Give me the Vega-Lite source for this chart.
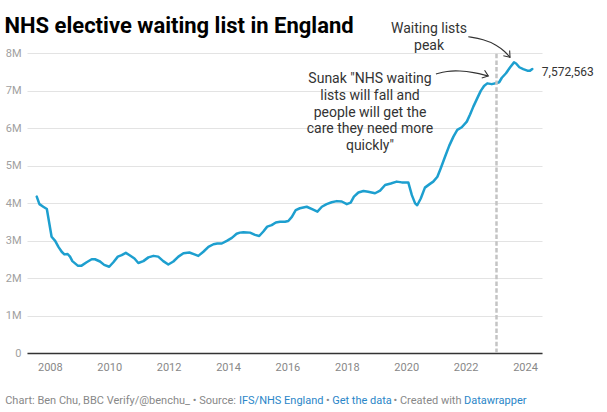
{
  "$schema": "https://vega.github.io/schema/vega-lite/v6.json",
  "width": 515,
  "height": 300,
  "autosize": "none",
  "padding": {"left": 27, "top": 53, "right": 65, "bottom": 59},
  "background": "#ffffff",
  "config": {
    "font": "Roboto",
    "view": {"stroke": null},
    "axis": {"labelFont": "Roboto", "titleFont": "Roboto"}
  },
  "title": {
    "text": "NHS elective waiting list in England",
    "anchor": "start",
    "frame": "group",
    "dx": -22.5,
    "offset": 0,
    "dy": 33,
    "baseline": "alphabetic",
    "fontSize": 22,
    "fontWeight": "bold",
    "color": "#000000",
    "font": "Roboto"
  },
  "resolve": {"axis": {"x": "independent", "y": "independent"}},
  "datasets": {
    "wl": [
      {"year": 2007.56, "waiting": 4170000},
      {"year": 2007.65, "waiting": 3970000},
      {"year": 2007.78, "waiting": 3900000},
      {"year": 2007.90, "waiting": 3840000},
      {"year": 2008.06, "waiting": 3100000},
      {"year": 2008.18, "waiting": 2990000},
      {"year": 2008.29, "waiting": 2830000},
      {"year": 2008.40, "waiting": 2700000},
      {"year": 2008.49, "waiting": 2630000},
      {"year": 2008.60, "waiting": 2640000},
      {"year": 2008.68, "waiting": 2570000},
      {"year": 2008.76, "waiting": 2450000},
      {"year": 2008.85, "waiting": 2390000},
      {"year": 2008.94, "waiting": 2330000},
      {"year": 2009.07, "waiting": 2330000},
      {"year": 2009.24, "waiting": 2420000},
      {"year": 2009.41, "waiting": 2500000},
      {"year": 2009.52, "waiting": 2500000},
      {"year": 2009.69, "waiting": 2440000},
      {"year": 2009.83, "waiting": 2350000},
      {"year": 2010.00, "waiting": 2300000},
      {"year": 2010.14, "waiting": 2420000},
      {"year": 2010.29, "waiting": 2570000},
      {"year": 2010.42, "waiting": 2610000},
      {"year": 2010.56, "waiting": 2670000},
      {"year": 2010.70, "waiting": 2600000},
      {"year": 2010.85, "waiting": 2520000},
      {"year": 2010.98, "waiting": 2400000},
      {"year": 2011.15, "waiting": 2450000},
      {"year": 2011.32, "waiting": 2550000},
      {"year": 2011.49, "waiting": 2590000},
      {"year": 2011.65, "waiting": 2570000},
      {"year": 2011.82, "waiting": 2450000},
      {"year": 2011.99, "waiting": 2360000},
      {"year": 2012.16, "waiting": 2440000},
      {"year": 2012.33, "waiting": 2570000},
      {"year": 2012.50, "waiting": 2660000},
      {"year": 2012.70, "waiting": 2680000},
      {"year": 2012.87, "waiting": 2630000},
      {"year": 2013.00, "waiting": 2590000},
      {"year": 2013.17, "waiting": 2700000},
      {"year": 2013.34, "waiting": 2830000},
      {"year": 2013.51, "waiting": 2900000},
      {"year": 2013.64, "waiting": 2920000},
      {"year": 2013.79, "waiting": 2920000},
      {"year": 2013.96, "waiting": 2990000},
      {"year": 2014.13, "waiting": 3070000},
      {"year": 2014.29, "waiting": 3180000},
      {"year": 2014.40, "waiting": 3210000},
      {"year": 2014.52, "waiting": 3220000},
      {"year": 2014.74, "waiting": 3210000},
      {"year": 2014.91, "waiting": 3150000},
      {"year": 2015.05, "waiting": 3120000},
      {"year": 2015.19, "waiting": 3240000},
      {"year": 2015.32, "waiting": 3370000},
      {"year": 2015.47, "waiting": 3410000},
      {"year": 2015.61, "waiting": 3480000},
      {"year": 2015.75, "waiting": 3500000},
      {"year": 2015.92, "waiting": 3500000},
      {"year": 2016.03, "waiting": 3520000},
      {"year": 2016.15, "waiting": 3630000},
      {"year": 2016.28, "waiting": 3810000},
      {"year": 2016.42, "waiting": 3860000},
      {"year": 2016.65, "waiting": 3900000},
      {"year": 2016.85, "waiting": 3830000},
      {"year": 2017.01, "waiting": 3770000},
      {"year": 2017.16, "waiting": 3900000},
      {"year": 2017.32, "waiting": 3970000},
      {"year": 2017.49, "waiting": 4020000},
      {"year": 2017.66, "waiting": 4050000},
      {"year": 2017.83, "waiting": 4040000},
      {"year": 2018.00, "waiting": 3970000},
      {"year": 2018.13, "waiting": 4010000},
      {"year": 2018.24, "waiting": 4170000},
      {"year": 2018.39, "waiting": 4280000},
      {"year": 2018.56, "waiting": 4320000},
      {"year": 2018.72, "waiting": 4300000},
      {"year": 2018.95, "waiting": 4260000},
      {"year": 2019.12, "waiting": 4330000},
      {"year": 2019.29, "waiting": 4480000},
      {"year": 2019.48, "waiting": 4520000},
      {"year": 2019.68, "waiting": 4570000},
      {"year": 2019.85, "waiting": 4550000},
      {"year": 2020.07, "waiting": 4550000},
      {"year": 2020.19, "waiting": 4210000},
      {"year": 2020.30, "waiting": 3990000},
      {"year": 2020.37, "waiting": 3940000},
      {"year": 2020.49, "waiting": 4120000},
      {"year": 2020.63, "waiting": 4410000},
      {"year": 2020.80, "waiting": 4510000},
      {"year": 2020.91, "waiting": 4570000},
      {"year": 2021.05, "waiting": 4700000},
      {"year": 2021.16, "waiting": 4920000},
      {"year": 2021.31, "waiting": 5240000},
      {"year": 2021.45, "waiting": 5530000},
      {"year": 2021.59, "waiting": 5770000},
      {"year": 2021.72, "waiting": 5950000},
      {"year": 2021.87, "waiting": 6020000},
      {"year": 2022.04, "waiting": 6170000},
      {"year": 2022.15, "waiting": 6360000},
      {"year": 2022.26, "waiting": 6570000},
      {"year": 2022.39, "waiting": 6790000},
      {"year": 2022.51, "waiting": 6990000},
      {"year": 2022.62, "waiting": 7120000},
      {"year": 2022.73, "waiting": 7190000},
      {"year": 2022.88, "waiting": 7170000},
      {"year": 2023.05, "waiting": 7200000},
      {"year": 2023.13, "waiting": 7220000},
      {"year": 2023.22, "waiting": 7340000},
      {"year": 2023.36, "waiting": 7460000},
      {"year": 2023.50, "waiting": 7620000},
      {"year": 2023.63, "waiting": 7750000},
      {"year": 2023.70, "waiting": 7720000},
      {"year": 2023.81, "waiting": 7620000},
      {"year": 2023.94, "waiting": 7570000},
      {"year": 2024.08, "waiting": 7530000},
      {"year": 2024.17, "waiting": 7530000},
      {"year": 2024.245, "waiting": 7572563}
    ],
    "arrows": [
      {"arrow": "peak", "year": 2022.09, "value": 8435000},
      {"arrow": "peak", "year": 2022.60, "value": 8365000},
      {"arrow": "peak", "year": 2023.05, "value": 8213000},
      {"arrow": "peak", "year": 2023.33, "value": 8035000},
      {"arrow": "peak", "year": 2023.495, "value": 7885000},
      {"arrow": "pledge", "year": 2021.00, "value": 7440000},
      {"arrow": "pledge", "year": 2021.36, "value": 7520000},
      {"arrow": "pledge", "year": 2021.81, "value": 7528000},
      {"arrow": "pledge", "year": 2022.26, "value": 7485000},
      {"arrow": "pledge", "year": 2022.764, "value": 7387000}
    ],
    "heads": [
      {"arrow": "peak", "year": 2023.495, "value": 7885000, "angle": 50},
      {"arrow": "pledge", "year": 2022.764, "value": 7387000, "angle": 20}
    ]
  },
  "layer": [
    {
      "data": {"name": "wl"},
      "mark": {"type": "line", "color": "#1d9fcf", "strokeWidth": 2.5, "strokeJoin": "round", "strokeCap": "round"},
      "encoding": {
        "x": {
          "field": "year",
          "type": "quantitative",
          "scale": {"domain": [2007.232, 2024.572], "nice": false, "zero": false},
          "axis": {
            "orient": "bottom",
            "values": [2008, 2010, 2012, 2014, 2016, 2018, 2020, 2022, 2024],
            "format": "d",
            "grid": false,
            "ticks": false,
            "domainColor": "#333333",
            "domainWidth": 1.5,
            "labelColor": "#888888",
            "labelFontSize": 11,
            "labelPadding": 8,
            "title": "Chart: Ben Chu, BBC Verify/@benchu_ • Source:",
            "titleAnchor": "start",
            "titleAlign": "left",
            "titleX": -22.3,
            "titleY": 47,
            "titleBaseline": "middle",
            "titleFontSize": 11,
            "titleFontWeight": "normal",
            "titleColor": "#888888"
          }
        },
        "y": {
          "field": "waiting",
          "type": "quantitative",
          "scale": {"domain": [0, 8000000], "nice": false},
          "axis": {
            "orient": "left",
            "values": [0, 1000000, 2000000, 3000000, 4000000, 5000000, 6000000, 7000000, 8000000],
            "labelExpr": "datum.value == 0 ? '0' : (datum.value / 1000000) + 'M'",
            "domain": false,
            "ticks": false,
            "grid": true,
            "gridColor": "#e3e3e3",
            "gridWidth": 1,
            "labelColor": "#a0a0a0",
            "labelFontSize": 11,
            "labelPadding": 6,
            "labelOverlap": false,
            "title": null
          }
        }
      }
    },
    {
      "data": {"values": [{}]},
      "mark": {"type": "rule", "color": "#c4c4c4", "strokeWidth": 2.5, "strokeDash": [4.5, 2.2]},
      "encoding": {
        "x": {
          "datum": 2023.04, "type": "quantitative",
          "axis": {"orient": "bottom", "domain": false, "ticks": false, "labels": false, "grid": false,
            "title": "IFS/NHS England", "titleAnchor": "start", "titleAlign": "left", "titleX": 211.5, "titleY": 47,
            "titleBaseline": "middle", "titleFontSize": 11, "titleFontWeight": "normal", "titleColor": "#2a86c8"}
        },
        "y": {"datum": 0, "type": "quantitative",
          "axis": {"orient": "left", "domain": false, "ticks": false, "labels": false, "grid": false, "title": null}},
        "y2": {"datum": 8000000}
      }
    },
    {
      "data": {"values": [{}]},
      "mark": {"type": "text", "text": "7,572,563", "align": "left", "baseline": "middle", "dx": 9.5, "dy": 2.5, "fontSize": 12, "color": "#333333", "font": "Roboto"},
      "encoding": {
        "x": {
          "datum": 2024.245, "type": "quantitative",
          "axis": {"orient": "bottom", "domain": false, "ticks": false, "labels": false, "grid": false,
            "title": "•", "titleAnchor": "start", "titleAlign": "left", "titleX": 298.5, "titleY": 47,
            "titleBaseline": "middle", "titleFontSize": 11, "titleFontWeight": "normal", "titleColor": "#888888"}
        },
        "y": {"datum": 7572563, "type": "quantitative",
          "axis": {"orient": "left", "domain": false, "ticks": false, "labels": false, "grid": false, "title": null}}
      }
    },
    {
      "data": {"values": [{}]},
      "mark": {"type": "text", "text": ["Waiting lists", "peak"], "align": "center", "baseline": "middle", "lineHeight": 17, "fontSize": 14, "color": "#333333", "font": "Roboto"},
      "encoding": {
        "x": {
          "datum": 2020.768, "type": "quantitative",
          "axis": {"orient": "bottom", "domain": false, "ticks": false, "labels": false, "grid": false,
            "title": "Get the data", "titleAnchor": "start", "titleAlign": "left", "titleX": 304.7, "titleY": 47,
            "titleBaseline": "middle", "titleFontSize": 11, "titleFontWeight": "normal", "titleColor": "#2a86c8"}
        },
        "y": {"datum": 8640000, "type": "quantitative",
          "axis": {"orient": "left", "domain": false, "ticks": false, "labels": false, "grid": false, "title": null}}
      }
    },
    {
      "data": {"values": [{}]},
      "mark": {"type": "text", "text": ["Sunak \"NHS waiting", "lists will fall and", "people will get the", "care they need more", "quickly\""], "align": "center", "baseline": "middle", "lineHeight": 16.8, "fontSize": 14, "color": "#333333", "font": "Roboto"},
      "encoding": {
        "x": {
          "datum": 2018.781, "type": "quantitative",
          "axis": {"orient": "bottom", "domain": false, "ticks": false, "labels": false, "grid": false,
            "title": "• Created with", "titleAnchor": "start", "titleAlign": "left", "titleX": 366, "titleY": 47,
            "titleBaseline": "middle", "titleFontSize": 11, "titleFontWeight": "normal", "titleColor": "#888888"}
        },
        "y": {"datum": 7307000, "type": "quantitative",
          "axis": {"orient": "left", "domain": false, "ticks": false, "labels": false, "grid": false, "title": null}}
      }
    },
    {
      "data": {"name": "arrows"},
      "mark": {"type": "line", "interpolate": "basis", "color": "#333333", "strokeWidth": 1.1},
      "encoding": {
        "x": {
          "field": "year", "type": "quantitative",
          "axis": {"orient": "bottom", "domain": false, "ticks": false, "labels": false, "grid": false,
            "title": "Datawrapper", "titleAnchor": "start", "titleAlign": "left", "titleX": 436.5, "titleY": 47,
            "titleBaseline": "middle", "titleFontSize": 11, "titleFontWeight": "normal", "titleColor": "#2a86c8"}
        },
        "y": {"field": "value", "type": "quantitative",
          "axis": {"orient": "left", "domain": false, "ticks": false, "labels": false, "grid": false, "title": null}},
        "detail": {"field": "arrow"}
      }
    },
    {
      "data": {"name": "heads"},
      "mark": {"type": "point", "shape": "M-1,-0.75L0,0L-1,0.75", "filled": false, "size": 120, "color": "#333333", "strokeWidth": 1.1, "opacity": 1},
      "encoding": {
        "x": {"field": "year", "type": "quantitative",
          "axis": {"orient": "bottom", "domain": false, "ticks": false, "labels": false, "grid": false, "title": null}},
        "y": {"field": "value", "type": "quantitative",
          "axis": {"orient": "left", "domain": false, "ticks": false, "labels": false, "grid": false, "title": null}},
        "angle": {"field": "angle", "type": "quantitative", "scale": null}
      }
    }
  ]
}
